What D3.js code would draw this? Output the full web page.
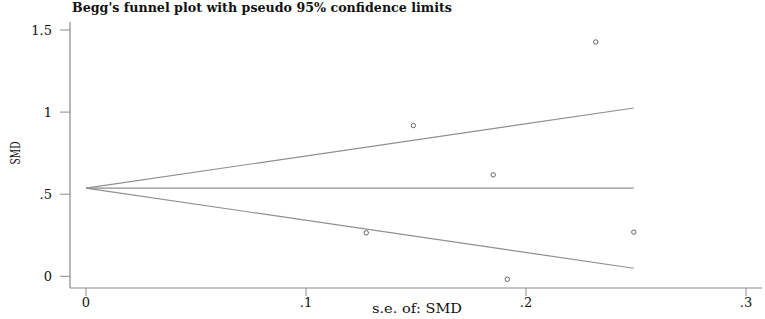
<!DOCTYPE html>
<html>
<head>
<meta charset="utf-8">
<script src="https://cdn.jsdelivr.net/npm/d3@7"></script>
<style>
  body { margin: 0; background: #fff; }
  text { font-family: "DejaVu Serif", "Liberation Serif", serif; fill: #111; }
</style>
</head>
<body>
<div id="chart"></div>
<script>
// Study points: standard error and SMD
const seValues = [0.2317, 0.1488, 0.1851, 0.1274, 0.249, 0.1915];
const smdValues = [1.427, 0.918, 0.618, 0.265, 0.269, -0.018];
const pooledSMD = 0.537;
const maxSE = 0.249;
const xTicks = [0, 0.1, 0.2, 0.3];
const yTicks = [0, 0.5, 1, 1.5];
const tickFmt = v => v === 0 ? '0' : String(v).replace(/^0\./, '.');

const width = 765, height = 319;

const svg = d3.select('#chart').append('svg')
    .attr('width', width)
    .attr('height', height);

const x = d3.scaleLinear().domain([0, 0.3]).range([86, 746]);
const y = d3.scaleLinear().domain([0, 1.5]).range([276.3, 30]);

const axisColor = '#8a8a8a';

// axis lines
svg.append('line')
    .attr('x1', 70).attr('x2', 70).attr('y1', 22).attr('y2', 288)
    .attr('stroke', axisColor).attr('stroke-width', 1.2);
svg.append('line')
    .attr('x1', 70).attr('x2', 762).attr('y1', 288).attr('y2', 288)
    .attr('stroke', axisColor).attr('stroke-width', 1.2);

// y ticks
svg.selectAll('.ytick').data(yTicks).enter().append('line')
    .attr('x1', 60).attr('x2', 70)
    .attr('y1', d => y(d)).attr('y2', d => y(d))
    .attr('stroke', axisColor);
svg.selectAll('.ylab').data(yTicks).enter().append('text')
    .attr('x', 52).attr('y', d => y(d) + 4.5)
    .attr('text-anchor', 'end')
    .attr('font-size', 13)
    .text(tickFmt);

// x ticks
svg.selectAll('.xtick').data(xTicks).enter().append('line')
    .attr('x1', d => x(d)).attr('x2', d => x(d))
    .attr('y1', 288).attr('y2', 296)
    .attr('stroke', axisColor);
svg.selectAll('.xlab').data(xTicks).enter().append('text')
    .attr('x', d => x(d)).attr('y', 307)
    .attr('text-anchor', 'middle')
    .attr('font-size', 13)
    .text(tickFmt);

// funnel lines
const lineColor = '#8f8f8f';
const funnel = [
    [[0, pooledSMD], [maxSE, pooledSMD]],
    [[0, pooledSMD], [maxSE, pooledSMD + 1.96 * maxSE]],
    [[0, pooledSMD], [maxSE, pooledSMD - 1.96 * maxSE]]
];
const line = d3.line().x(d => x(d[0])).y(d => y(d[1]));
svg.selectAll('.funnel').data(funnel).enter().append('path')
    .attr('d', line)
    .attr('fill', 'none')
    .attr('stroke', lineColor)
    .attr('stroke-width', 1.2);

// points
svg.selectAll('circle').data(seValues).enter().append('circle')
    .attr('cx', d => x(d))
    .attr('cy', (d, i) => y(smdValues[i]))
    .attr('r', 2.2)
    .attr('fill', 'none')
    .attr('stroke', '#555')
    .attr('stroke-width', 0.9);

// title
svg.append('text')
    .attr('x', 72).attr('y', 12)
    .attr('font-size', 12)
    .attr('font-weight', 'bold')
    .attr('textLength', 380)
    .attr('lengthAdjust', 'spacingAndGlyphs')
    .text("Begg's funnel plot with pseudo 95% confidence limits");

// axis titles
svg.append('text')
    .attr('transform', 'translate(20,153) rotate(-90)')
    .attr('text-anchor', 'middle')
    .attr('font-size', 12)
    .attr('textLength', 23)
    .attr('lengthAdjust', 'spacingAndGlyphs')
    .text('SMD');
svg.append('text')
    .attr('x', 372).attr('y', 313)
    .attr('font-size', 12)
    .attr('textLength', 90)
    .attr('lengthAdjust', 'spacingAndGlyphs')
    .text('s.e. of: SMD');
</script>
</body>
</html>
